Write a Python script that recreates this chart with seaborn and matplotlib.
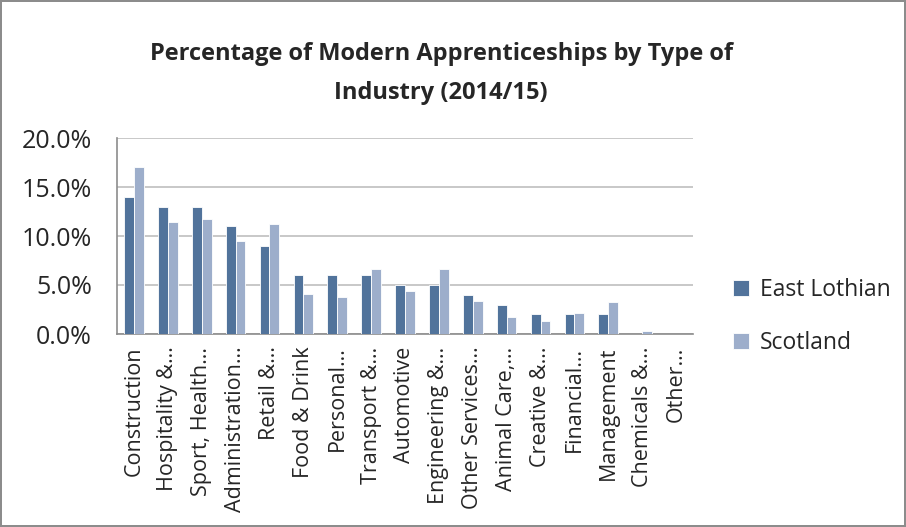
import matplotlib
matplotlib.use("Agg")
import matplotlib.pyplot as plt
import seaborn as sns
import pandas as pd
from matplotlib.ticker import PercentFormatter

# industries as shown on the axis (Excel truncated the long ones)
industries = [
    "Construction", "Hospitality &…", "Sport, Health…", "Administration…",
    "Retail &…", "Food & Drink", "Personal…", "Transport &…", "Automotive",
    "Engineering &…", "Other Services…", "Animal Care,…", "Creative &…",
    "Financial…", "Management", "Chemicals &…", "Other…",
]
east_lothian = [14.0, 13.0, 13.0, 11.0, 9.0, 6.0, 6.0, 6.0, 5.0, 5.0, 4.0, 3.0, 2.0, 2.0, 2.0, 0.0, 0.0]
scotland = [17.0, 11.4, 11.7, 9.5, 11.2, 4.1, 3.8, 6.6, 4.4, 6.6, 3.4, 1.7, 1.35, 2.1, 3.3, 0.35, 0.05]
series = ["East Lothian", "Scotland"]
colors = ["#4572A7", "#95ACD3"]

df = pd.DataFrame({
    "industry": industries * 2,
    "value": east_lothian + scotland,
    "area": [series[0]] * len(industries) + [series[1]] * len(industries),
})

sns.set_style("white")
plt.rcParams["font.family"] = ["Open Sans", "DejaVu Sans"]

fig = plt.figure(figsize=(9.06, 5.27), dpi=100)
fig.patch.set_edgecolor("#8c8c8c")
fig.patch.set_linewidth(1.5)
ax = fig.add_axes([117 / 906, 1 - 334 / 527, 576 / 906, 196 / 527])

sns.barplot(data=df, x="industry", y="value", hue="area", palette=colors,
            width=0.58, edgecolor="white", linewidth=0.6, ax=ax, zorder=3)

ax.set_ylim(0, 20)
ax.set_yticks([0, 5, 10, 15, 20])
ax.yaxis.set_major_formatter(PercentFormatter(decimals=1))
ax.grid(axis="y", color="#bfbfbf", linewidth=1.2, zorder=0)
ax.set_xlabel("")
ax.set_ylabel("")
ax.tick_params(axis="x", labelrotation=90, labelsize=15.5, length=0, pad=9)
ax.tick_params(axis="y", labelsize=18, length=0, pad=18)
ax.set_xlim(-0.5, len(industries) - 0.5)
for side in ["top", "right"]:
    ax.spines[side].set_visible(False)
for side in ["left", "bottom"]:
    ax.spines[side].set_color("#8c8c8c")
    ax.spines[side].set_linewidth(1.2)

leg = ax.legend(loc="center left", bbox_to_anchor=(1.033, 0.09), frameon=False,
                fontsize=16.5, handlelength=0.7, handleheight=0.7,
                labelspacing=1.25, handletextpad=0.5)

fig.text(0.487, 0.86, "Percentage of Modern Apprenticeships by Type of\nIndustry (2014/15)",
         ha="center", va="center", fontsize=17, fontweight="bold",
         linespacing=1.85)

fig.savefig("out.png", dpi=100, edgecolor=fig.get_edgecolor())
